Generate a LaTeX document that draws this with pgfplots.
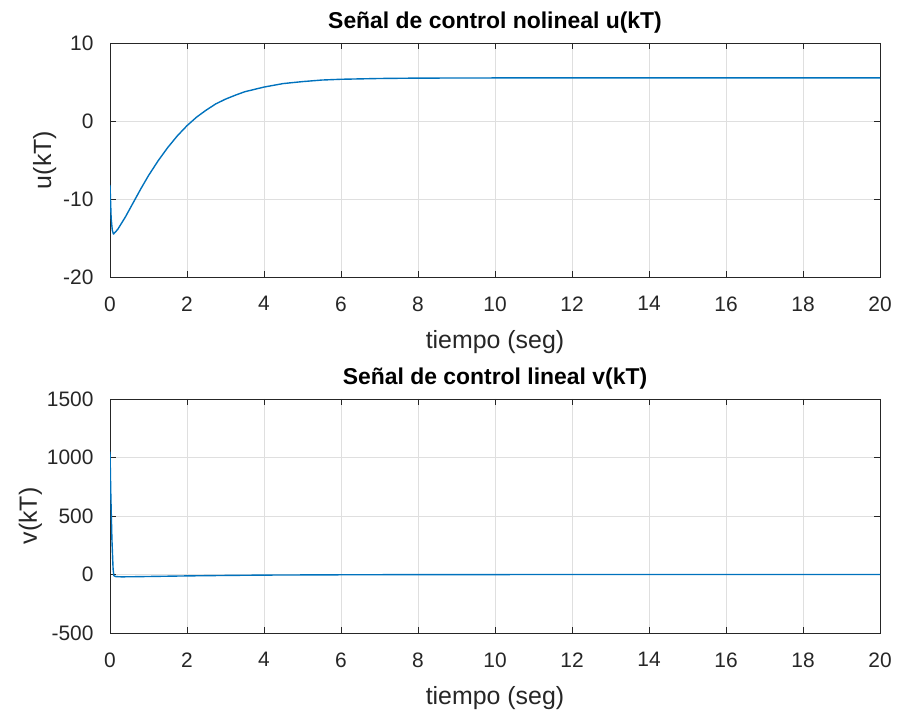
\documentclass[border=0pt]{standalone}
\usepackage{pgfplots}
\pgfplotsset{compat=1.18}
\usepackage{fontspec}
\setmainfont{Liberation Sans}
\definecolor{mblue}{rgb}{0,0.447,0.741}
\definecolor{tickc}{RGB}{38,38,38}
\pgfplotsset{
  mstyle/.style={
    scale only axis, width=770bp, height=234bp,
    xmin=0, xmax=20, xtick={0,2,...,20},
    grid=major, major grid style={gray!25, line width=0.5pt},
    tick align=inside, major tick length=6bp,
    axis line style={tickc, line width=0.6pt},
    tick style={tickc, line width=0.6pt},
    ticklabel style={font=\fontsize{21}{24}\selectfont, text=tickc},
    /pgf/number format/assume math mode=true,
    /pgf/number format/1000 sep={},
    label style={font=\fontsize{25}{29}\selectfont, text=tickc},
    title style={font=\fontsize{23}{27}\selectfont\bfseries, yshift=0bp},
    xlabel={tiempo (seg)},
    xlabel style={yshift=-12bp},
    xticklabel style={yshift=-16bp},
    yticklabel style={xshift=-13bp},
  }
}
\begin{document}
\begin{tikzpicture}
\path[use as bounding box] (0,0) rectangle (900bp,713bp);
\begin{axis}[mstyle, at={(110bp,436bp)}, anchor=south west,
  ymin=-20, ymax=10, ytick={-20,-10,0,10},
  title={Señal de control nolineal u(kT)}, ylabel={u(kT)},
  ylabel style={yshift=0bp}]
\addplot[mblue, line width=1.4pt, line join=round, mark=none] coordinates {
(0,-8.2) (0.03,-12.5) (0.06,-14.0) (0.09,-14.5) (0.2,-13.9) (0.4,-12.3)
(0.6,-10.5) (0.8,-8.7) (1.0,-7.0) (1.25,-5.1) (1.5,-3.4) (1.75,-1.9)
(2.0,-0.6) (2.25,0.5) (2.5,1.4) (2.75,2.2) (3.0,2.8) (3.25,3.3)
(3.5,3.75) (4.0,4.35) (4.5,4.8) (5.0,5.05) (5.5,5.25) (6.0,5.35)
(7.0,5.45) (8.0,5.5) (10,5.52) (12,5.52) (16,5.52) (20,5.52)
};
\end{axis}
\begin{axis}[mstyle, at={(110bp,80bp)}, anchor=south west,
  ymin=-500, ymax=1500, ytick={-500,0,500,1000,1500},
  title={Señal de control lineal v(kT)}, ylabel={v(kT)},
  ylabel style={yshift=-2bp}]
\addplot[mblue, line width=1.4pt, line join=round, mark=none] coordinates {
(0,1050) (0.02,700) (0.05,300) (0.08,50) (0.1,-10) (0.15,-18) (0.3,-20)
(0.6,-19) (1,-17) (2,-12) (3,-8) (4,-5) (6,-2.5) (8,-1) (10,-0.5) (14,0) (20,0)
};
\end{axis}
\end{tikzpicture}
\end{document}
